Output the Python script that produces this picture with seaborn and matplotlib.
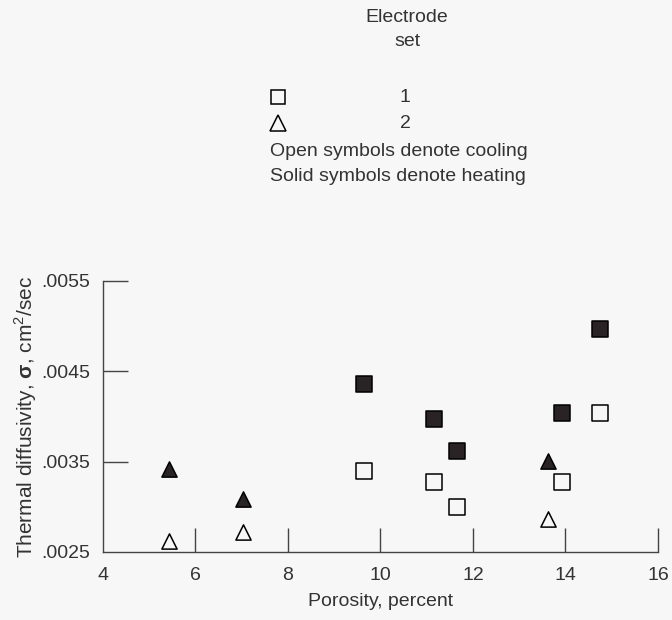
import matplotlib
matplotlib.use("Agg")
import matplotlib.pyplot as plt
from matplotlib.lines import Line2D
import numpy as np
import pandas as pd
import seaborn as sns

# Porosity (percent) and thermal diffusivity (cm^2/sec) for each run
set1_porosity = [9.64, 11.15, 11.65, 13.92, 14.75]
set1_cooling = [0.00340, 0.00327, 0.00300, 0.00328, 0.00404]
set1_heating = [0.00436, 0.00397, 0.00362, 0.00404, 0.00497]

set2_porosity = [5.43, 7.02, 13.62]
set2_cooling = [0.002625, 0.00272, 0.00286]
set2_heating = [0.00342, 0.00309, 0.00351]

x_ticks = [4, 6, 8, 10, 12, 14, 16]
y_ticks = [0.0025, 0.0035, 0.0045, 0.0055]
y_tick_labels = [".0025", ".0035", ".0045", ".0055"]

rows = []
for p, c, h in zip(set1_porosity, set1_cooling, set1_heating):
    rows.append((p, c, "1", "cooling"))
    rows.append((p, h, "1", "heating"))
for p, c, h in zip(set2_porosity, set2_cooling, set2_heating):
    rows.append((p, c, "2", "cooling"))
    rows.append((p, h, "2", "heating"))
df = pd.DataFrame(rows, columns=["porosity", "diffusivity", "electrode", "mode"])

BG = "#f7f7f7"
INK = "#2a2326"
TXT = "#333333"
FS = 14
sns.set_style("white")
plt.rcParams["font.family"] = ["Liberation Sans", "DejaVu Sans"]
plt.rcParams["mathtext.fontset"] = "custom"
plt.rcParams["mathtext.rm"] = "Liberation Sans"
plt.rcParams["mathtext.bf"] = "Liberation Sans:bold"

fig = plt.figure(figsize=(6.72, 6.2), dpi=100, facecolor=BG)
ax = fig.add_axes([0.1533, 0.1097, 0.979 - 0.1533, 0.5468 - 0.1097])
ax.set_facecolor(BG)

marker_for = {"1": "s", "2": "^"}
for (elec, mode), sub in df.groupby(["electrode", "mode"]):
    sns.scatterplot(
        data=sub, x="porosity", y="diffusivity", ax=ax,
        marker=marker_for[elec], s=120,
        color=INK if mode == "heating" else BG,
        edgecolor="black", linewidth=1.1, legend=False, zorder=3,
    )

ax.set_xlim(4, 16)
ax.set_ylim(0.0025, 0.0055)
ax.set_xticks(x_ticks)
ax.set_yticks(y_ticks)
ax.set_yticklabels(y_tick_labels)
ax.tick_params(axis="x", bottom=True, direction="in", length=17, width=1,
               color="#444444", pad=11, labelsize=FS, labelcolor=TXT)
ax.tick_params(axis="y", left=True, direction="in", length=18, width=1,
               color="#444444", pad=9, labelsize=FS, labelcolor=TXT)
# the first tick of each axis sits on the other spine
ax.xaxis.get_major_ticks()[0].tick1line.set_visible(False)
ax.yaxis.get_major_ticks()[0].tick1line.set_visible(False)

for side in ("top", "right"):
    ax.spines[side].set_visible(False)
for side in ("left", "bottom"):
    ax.spines[side].set_color("#444444")
    ax.spines[side].set_linewidth(1)

ax.set_xlabel("Porosity, percent", fontsize=FS, color=TXT, labelpad=6)
ax.set_ylabel(r"Thermal diffusivity, $\mathbf{\sigma}$, cm$^2$/sec",
              fontsize=FS + 1, color=TXT, labelpad=2)

# Key above the plot
def fx(px):
    return px / 672.0

def fy(py):
    return 1 - py / 620.0

txt = dict(fontsize=FS, color=TXT, va="center")
fig.text(fx(407), fy(17), "Electrode", ha="center", **txt)
fig.text(fx(407), fy(42), "set", ha="center", **txt)
fig.add_artist(Line2D([fx(278)], [fy(97)], transform=fig.transFigure,
                      marker="s", markersize=10.5, markerfacecolor=BG,
                      markeredgecolor="black", markeredgewidth=1.1, linestyle="none"))
fig.add_artist(Line2D([fx(278)], [fy(123)], transform=fig.transFigure,
                      marker="^", markersize=11, markerfacecolor=BG,
                      markeredgecolor="black", markeredgewidth=1.1, linestyle="none"))
fig.text(fx(405), fy(97), "1", ha="center", **txt)
fig.text(fx(405), fy(123), "2", ha="center", **txt)
fig.text(fx(270), fy(152), "Open symbols denote cooling", ha="left", **txt)
fig.text(fx(270), fy(177), "Solid symbols denote heating", ha="left", **txt)

fig.savefig("out.png", dpi=100, facecolor=BG)
